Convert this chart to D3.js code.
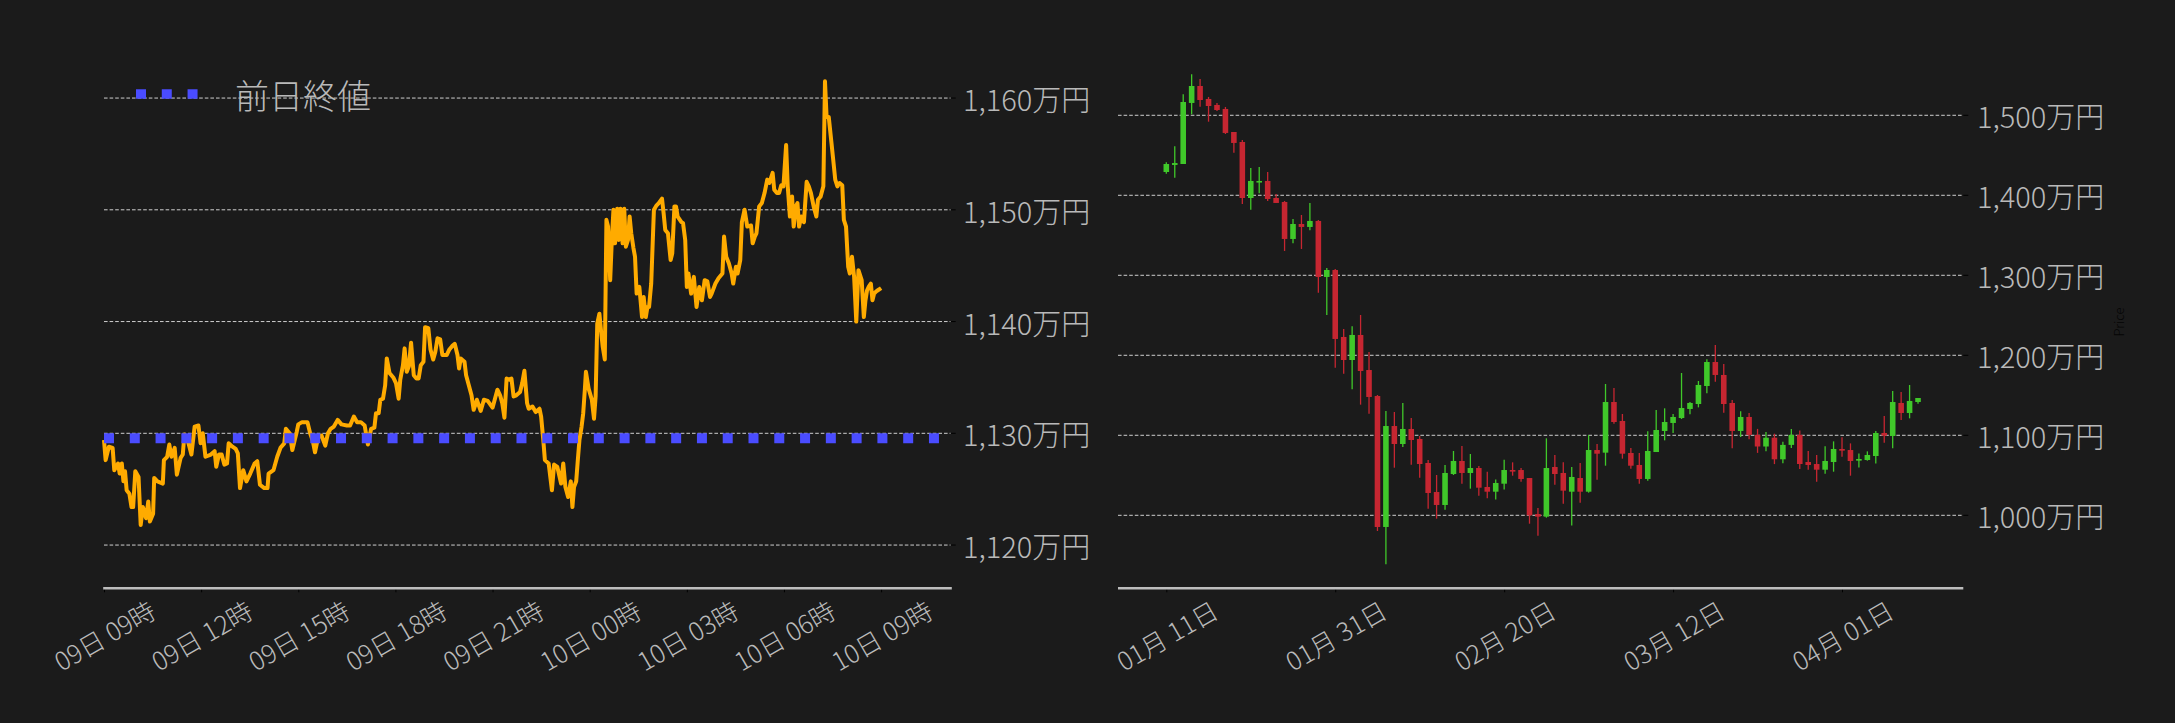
<!DOCTYPE html>
<html>
<head>
<meta charset="utf-8">
<script src="https://cdn.jsdelivr.net/npm/d3@7"></script>
<style>
html, body { margin: 0; padding: 0; background: #1b1b1b; }
svg { display: block; }
text { font-family: "Noto Sans CJK JP", "Noto Sans", sans-serif; font-weight: 300; }
</style>
</head>
<body>
<svg id="chart" width="2175" height="723"></svg>
<script>
// intraday: minutes after start, price in 万円
const intradayStart = "2025-04-09 09:00";
const intradaySeries = [[0,1129.4],[3,1127.6],[9,1128.8],[16,1128.7],[19,1126.7],[26,1127.3],[29,1126.4],[33,1127.3],[36,1125.7],[39,1126.6],[42,1124.9],[47,1124.6],[51,1123.4],[54,1123.4],[58,1126.6],[64,1126.1],[68,1121.8],[72,1123.4],[78,1122.4],[82,1123.9],[85,1122.1],[91,1122.8],[93,1126.0],[99,1125.7],[109,1125.5],[111,1127.6],[117,1127.9],[121,1129.0],[125,1127.9],[131,1128.7],[135,1126.3],[142,1127.8],[146,1128.1],[149,1129.9],[155,1129.4],[162,1128.1],[168,1130.6],[175,1130.7],[179,1129.1],[183,1130.0],[188,1127.9],[198,1128.1],[205,1128.4],[208,1127.0],[213,1128.1],[218,1128.1],[223,1127.2],[228,1127.3],[231,1129.1],[238,1128.8],[244,1128.6],[248,1128.2],[252,1125.1],[258,1126.7],[264,1125.7],[271,1126.4],[279,1127.3],[284,1127.5],[289,1125.4],[297,1125.1],[303,1125.1],[305,1126.4],[314,1126.7],[321,1127.9],[327,1128.7],[334,1129.1],[337,1130.4],[344,1130.0],[349,1128.5],[354,1129.5],[357,1130.1],[360,1130.8],[367,1131.0],[377,1131.0],[382,1130.0],[387,1129.3],[391,1128.3],[397,1129.7],[403,1129.8],[410,1128.9],[415,1130.0],[420,1130.4],[426,1130.6],[433,1131.2],[440,1130.8],[450,1130.7],[456,1130.7],[463,1131.5],[469,1131.0],[476,1131.0],[483,1130.7],[489,1129.0],[495,1130.4],[501,1130.5],[504,1131.8],[509,1131.8],[512,1133.0],[517,1133.1],[521,1134.3],[524,1136.7],[529,1135.4],[536,1135.0],[541,1134.5],[546,1133.1],[549,1134.8],[554,1136.1],[557,1137.6],[561,1135.5],[565,1136.0],[569,1138.1],[574,1135.2],[579,1134.9],[583,1134.9],[587,1136.1],[592,1136.4],[595,1139.5],[601,1139.4],[605,1137.5],[610,1136.6],[614,1137.3],[618,1138.5],[623,1138.4],[627,1137.0],[635,1137.0],[640,1137.5],[645,1137.8],[650,1138.0],[655,1137.0],[658,1135.8],[661,1136.7],[668,1136.4],[671,1135.2],[676,1134.3],[681,1133.4],[685,1132.1],[691,1133.0],[698,1132.0],[704,1133.0],[711,1132.9],[720,1132.3],[724,1133.0],[729,1133.9],[734,1133.4],[738,1132.7],[742,1131.4],[746,1134.9],[751,1134.8],[755,1134.9],[759,1133.3],[764,1133.4],[771,1133.7],[775,1134.5],[779,1135.6],[784,1132.7],[787,1132.2],[794,1132.4],[800,1131.9],[807,1132.2],[810,1131.5],[814,1129.4],[817,1127.6],[824,1127.3],[830,1124.9],[834,1127.2],[840,1127.0],[847,1125.5],[851,1127.3],[855,1125.2],[860,1124.3],[865,1125.7],[868,1123.4],[871,1125.2],[875,1125.7],[878,1127.6],[881,1129.4],[885,1130.6],[888,1131.8],[891,1133.9],[893,1135.5],[898,1134.0],[904,1133.0],[908,1131.3],[911,1133.3],[914,1139.8],[918,1140.7],[921,1139.2],[924,1137.8],[928,1136.6],[931,1149.1],[934,1148.5],[938,1143.7],[941,1147.3],[944,1150.0],[947,1147.0],[951,1150.1],[954,1147.3],[957,1150.1],[961,1147.0],[964,1150.1],[967,1146.7],[971,1147.3],[974,1149.4],[977,1147.9],[981,1146.6],[984,1145.8],[987,1142.5],[992,1143.1],[997,1140.4],[1000,1142.2],[1004,1140.4],[1007,1141.3],[1010,1141.3],[1014,1143.4],[1019,1150.0],[1024,1150.4],[1028,1150.6],[1034,1151.0],[1037,1149.7],[1040,1148.2],[1045,1147.9],[1050,1145.5],[1053,1146.1],[1057,1150.3],[1060,1150.3],[1063,1149.4],[1070,1148.9],[1073,1148.8],[1077,1147.3],[1080,1143.1],[1083,1144.3],[1088,1142.5],[1093,1144.0],[1098,1141.3],[1103,1143.1],[1108,1141.9],[1113,1143.7],[1118,1143.6],[1123,1142.2],[1126,1142.5],[1133,1143.4],[1139,1143.9],[1146,1144.3],[1149,1147.6],[1153,1145.8],[1158,1145.2],[1163,1144.3],[1166,1143.4],[1171,1144.9],[1174,1144.3],[1179,1145.5],[1182,1148.9],[1187,1150.0],[1192,1148.5],[1199,1148.6],[1202,1147.0],[1206,1147.6],[1209,1147.9],[1214,1150.3],[1219,1150.6],[1224,1151.5],[1229,1152.7],[1233,1152.4],[1239,1153.3],[1242,1151.8],[1247,1151.5],[1251,1151.5],[1255,1152.2],[1259,1152.1],[1264,1155.8],[1267,1152.1],[1271,1149.4],[1275,1151.2],[1278,1148.5],[1282,1150.3],[1285,1150.6],[1288,1148.5],[1292,1149.4],[1297,1148.9],[1302,1152.5],[1306,1152.1],[1310,1151.5],[1315,1150.3],[1320,1149.4],[1323,1150.9],[1328,1151.2],[1333,1152.1],[1336,1161.5],[1339,1158.3],[1343,1158.3],[1348,1156.0],[1351,1154.6],[1355,1152.7],[1359,1152.1],[1363,1152.4],[1368,1152.2],[1371,1149.1],[1375,1148.5],[1379,1144.9],[1382,1144.3],[1386,1145.8],[1390,1144.0],[1394,1140.0],[1398,1144.6],[1404,1143.7],[1408,1140.4],[1411,1141.9],[1414,1142.8],[1417,1143.1],[1421,1143.4],[1424,1141.9],[1427,1142.5],[1431,1142.7],[1434,1142.8],[1440,1143.0]];
const prevClose = 1129.55;
const legendLabel = "前日終値";

// daily candles from start date: [open, high, low, close]
const dailyStart = "2025-01-11";
const dailyOHLC = [
  [1429.1,1441.2,1427.0,1439.1],[1437.9,1461.2,1422.0,1440.3],[1439.1,1526.2,1439.1,1516.6],[1515.4,1551.2,1501.2,1536.6],
  [1536.6,1545.4,1510.8,1519.1],[1520.4,1522.9,1492.0,1511.6],[1512.9,1515.4,1505.4,1506.6],[1507.9,1510.4,1476.6,1477.9],
  [1479.1,1479.1,1453.3,1465.4],[1466.6,1469.1,1389.1,1396.6],[1396.6,1434.1,1382.0,1417.9],[1417.4,1435.4,1402.4,1417.9],
  [1417.9,1429.1,1392.9,1395.4],[1396.6,1401.6,1390.4,1390.4],[1391.6,1392.9,1330.4,1345.4],[1345.4,1370.4,1339.9,1364.1],
  [1364.1,1375.4,1332.9,1360.4],[1360.4,1390.4,1356.2,1367.9],[1367.9,1369.1,1278.3,1297.9],[1297.9,1309.1,1250.4,1306.6],
  [1306.6,1308.0,1184.5,1220.4],[1222.9,1232.9,1177.0,1194.1],[1194.1,1236.2,1157.4,1225.4],[1225.4,1250.4,1138.3,1180.4],
  [1181.6,1204.1,1127.0,1147.9],[1149.1,1150.4,980.4,985.4],[985.4,1130.4,938.7,1111.6],[1111.6,1129.1,1059.5,1089.1],
  [1089.1,1140.4,1085.4,1107.9],[1107.9,1121.6,1063.3,1094.1],[1095.4,1099.1,1047.0,1064.1],[1065.4,1069.1,1008.3,1027.9],
  [1029.1,1050.4,995.8,1012.9],[1012.9,1062.9,1007.0,1052.9],[1051.6,1080.4,1050.4,1067.9],[1067.9,1086.6,1039.5,1052.9],
  [1052.9,1076.6,1033.3,1059.1],[1059.1,1061.6,1024.5,1034.5],[1035.4,1054.5,1021.2,1029.5],[1029.5,1044.9,1019.9,1040.4],
  [1039.5,1069.5,1032.4,1056.6],[1056.6,1066.2,1049.5,1055.4],[1056.6,1059.1,1042.0,1045.4],[1046.6,1046.6,989.5,999.9],
  [1001.6,1009.1,974.5,998.3],[998.3,1096.2,997.0,1059.1],[1060.4,1075.4,1038.3,1051.6],[1052.9,1066.2,1014.5,1030.8],
  [1029.5,1060.4,987.4,1047.9],[1046.6,1065.4,1015.8,1029.5],[1029.5,1100.4,1028.3,1081.6],[1081.6,1089.1,1044.5,1077.0],
  [1078.3,1164.1,1062.0,1141.6],[1141.6,1159.1,1114.5,1116.6],[1117.9,1126.6,1070.8,1077.0],[1077.9,1084.1,1058.3,1062.0],
  [1062.9,1077.9,1039.5,1045.4],[1045.4,1104.9,1043.3,1080.4],[1079.1,1131.6,1079.0,1106.6],[1105.4,1133.7,1093.7,1116.6],
  [1115.4,1126.6,1102.9,1122.9],[1121.6,1177.9,1120.4,1134.1],[1132.9,1141.6,1126.2,1140.4],[1139.1,1167.9,1134.9,1162.9],
  [1161.6,1194.9,1152.4,1191.6],[1191.6,1212.9,1167.0,1175.4],[1175.4,1189.1,1128.3,1139.1],[1140.4,1144.1,1083.7,1105.4],
  [1105.4,1130.0,1098.0,1122.9],[1122.9,1128.0,1095.0,1100.5],[1100.5,1108.0,1078.0,1086.0],[1086.0,1104.0,1080.0,1097.0],
  [1097.0,1102.0,1064.0,1070.0],[1070.0,1092.0,1065.0,1088.0],[1088.0,1108.0,1084.0,1100.5],[1100.5,1106.0,1058.0,1064.1],
  [1066.6,1080.4,1057.0,1062.9],[1064.1,1075.4,1042.0,1057.0],[1057.0,1086.2,1052.0,1067.9],[1066.6,1092.4,1054.5,1082.9],
  [1082.9,1097.4,1073.3,1080.8],[1081.6,1089.9,1049.5,1067.9],[1068.3,1077.4,1059.9,1070.4],[1069.1,1079.9,1068.3,1075.4],
  [1074.1,1105.4,1064.9,1102.9],[1102.9,1124.1,1090.8,1099.5],[1099.1,1155.4,1083.7,1141.6],[1140.4,1154.1,1119.1,1127.9],
  [1127.9,1162.9,1121.2,1142.9],[1141.6,1146.6,1139.5,1146.6]
];
const dailyTickEvery = 20;
const yUnit = "万円";

const bg = "#1b1b1b";
const textColor = "#b9b9b9";
const gridColor = "#cfcfcf";
const axisColor = "#bdbdbd";

const svg = d3.select("#chart");
svg.append("rect").attr("width", 2175).attr("height", 723).attr("fill", bg);

const plotTop = 50, plotBottom = 588.3;
const fmtYen = v => d3.format(",")(v) + yUnit;

function drawYGrid(yScale, ticks, x0, x1, labelX) {
    const g = svg.append("g");
    g.selectAll(".grid")
        .data(ticks)
        .enter().append("line")
        .attr("x1", x0).attr("x2", x1)
        .attr("y1", d => yScale(d)).attr("y2", d => yScale(d))
        .attr("stroke", gridColor)
        .attr("stroke-width", 1)
        .attr("stroke-dasharray", "3.6,2");
    g.selectAll(".ytick")
        .data(ticks)
        .enter().append("line")
        .attr("x1", x1).attr("x2", x1 + 5)
        .attr("y1", d => yScale(d)).attr("y2", d => yScale(d))
        .attr("stroke", "#000")
        .attr("stroke-width", 1);
    g.selectAll(".ylabel")
        .data(ticks)
        .enter().append("text")
        .attr("x", labelX)
        .attr("y", d => yScale(d))
        .attr("dominant-baseline", "central")
        .attr("fill", textColor)
        .attr("font-size", "29px")
        .text(d => fmtYen(d));
}

function drawXAxis(scale, tickValues, format, x0, x1) {
    const axis = d3.axisBottom(scale)
        .tickValues(tickValues)
        .tickSize(4)
        .tickSizeOuter(0)
        .tickFormat("");
    const g = svg.append("g")
        .attr("transform", `translate(0,${plotBottom})`)
        .call(axis);
    g.select(".domain").remove();
    g.selectAll(".tick line").attr("stroke", "#000").attr("stroke-width", 1);
    g.append("line")
        .attr("x1", x0).attr("x2", x1)
        .attr("y1", 0).attr("y2", 0)
        .attr("stroke", axisColor)
        .attr("stroke-width", 2.5);
    svg.append("g").selectAll("text")
        .data(tickValues)
        .enter().append("text")
        .attr("transform", d => `translate(${scale(d)},${plotBottom + 46}) rotate(-30)`)
        .attr("text-anchor", "middle")
        .attr("dominant-baseline", "central")
        .attr("fill", textColor)
        .attr("font-size", "25.5px")
        .text(d => format(d));
}

function createIntradayChart() {
    const t0 = d3.timeParse("%Y-%m-%d %H:%M")(intradayStart);
    const x0 = 104, x1 = 951.8;
    const xScale = d3.scaleTime()
        .domain([t0, d3.timeMinute.offset(t0, 1571)])
        .range([x0, x1]);
    const yScale = d3.scaleLinear().domain([1116.13, 1164.3]).range([plotBottom, plotTop]);

    drawYGrid(yScale, yScale.ticks(5), x0, 950.7, 963);

    const line = d3.line()
        .x(d => xScale(d3.timeMinute.offset(t0, d[0])))
        .y(d => yScale(d[1]));
    svg.append("path")
        .datum(intradaySeries)
        .attr("d", line)
        .attr("fill", "none")
        .attr("stroke", "#ffab00")
        .attr("stroke-width", 4)
        .attr("stroke-linejoin", "round");

    svg.append("line")
        .attr("x1", x0).attr("x2", x1)
        .attr("y1", yScale(prevClose)).attr("y2", yScale(prevClose))
        .attr("stroke", "#4a4cff")
        .attr("stroke-width", 10)
        .attr("stroke-dasharray", "10,15.78");

    const ticks = d3.timeHour.every(3).range(t0, d3.timeMinute.offset(t0, 1441));
    drawXAxis(xScale, ticks, d3.timeFormat("%d日 %H時"), 103.2, x1);

    // legend
    const lg = svg.append("g");
    lg.append("line")
        .attr("x1", 136).attr("x2", 198)
        .attr("y1", 94).attr("y2", 94)
        .attr("stroke", "#4a4cff")
        .attr("stroke-width", 9.5)
        .attr("stroke-dasharray", "10,15.78");
    lg.append("text")
        .attr("x", 235)
        .attr("y", 94)
        .attr("dominant-baseline", "central")
        .attr("fill", textColor)
        .attr("font-size", "34px")
        .text(legendLabel);
}

function createCandlestickChart() {
    const start = d3.timeParse("%Y-%m-%d")(dailyStart);
    const dates = dailyOHLC.map((d, i) => d3.timeDay.offset(start, i));
    const x0 = 1118, x1 = 1963.3;
    const xScale = d3.scaleLinear().domain([-5.72, 94.36]).range([x0, x1]);
    const yScale = d3.scaleLinear().domain([908.75, 1581.6]).range([plotBottom, plotTop]);
    const bodyW = (xScale(1) - xScale(0)) * 0.66;

    drawYGrid(yScale, yScale.ticks(6), x0, x1, 1977);

    const up = "#40c82a", down = "#c62631";
    const color = d => d[3] >= d[0] ? up : down;

    svg.selectAll(".wick")
        .data(dailyOHLC)
        .enter().append("line")
        .attr("class", "wick")
        .attr("x1", (d, i) => xScale(i))
        .attr("x2", (d, i) => xScale(i))
        .attr("y1", d => yScale(d[1]))
        .attr("y2", d => yScale(d[2]))
        .attr("stroke", color)
        .attr("stroke-width", 1.3);

    svg.selectAll(".body")
        .data(dailyOHLC)
        .enter().append("rect")
        .attr("class", "body")
        .attr("x", (d, i) => xScale(i) - bodyW / 2)
        .attr("y", d => yScale(Math.max(d[0], d[3])))
        .attr("width", bodyW)
        .attr("height", d => Math.max(1.6, Math.abs(yScale(d[0]) - yScale(d[3]))))
        .attr("fill", color);

    const tickIdx = d3.range(0, dailyOHLC.length, dailyTickEvery);
    const fmt = d3.timeFormat("%m月 %d日");
    drawXAxis(xScale, tickIdx, i => fmt(dates[i]), x0, x1);

    svg.append("text")
        .attr("transform", "translate(2118,322) rotate(-90)")
        .attr("text-anchor", "middle")
        .attr("dominant-baseline", "central")
        .attr("fill", "#050505")
        .attr("font-size", "13px")
        .text("Price");
}

createIntradayChart();
createCandlestickChart();
</script>
</body>
</html>
